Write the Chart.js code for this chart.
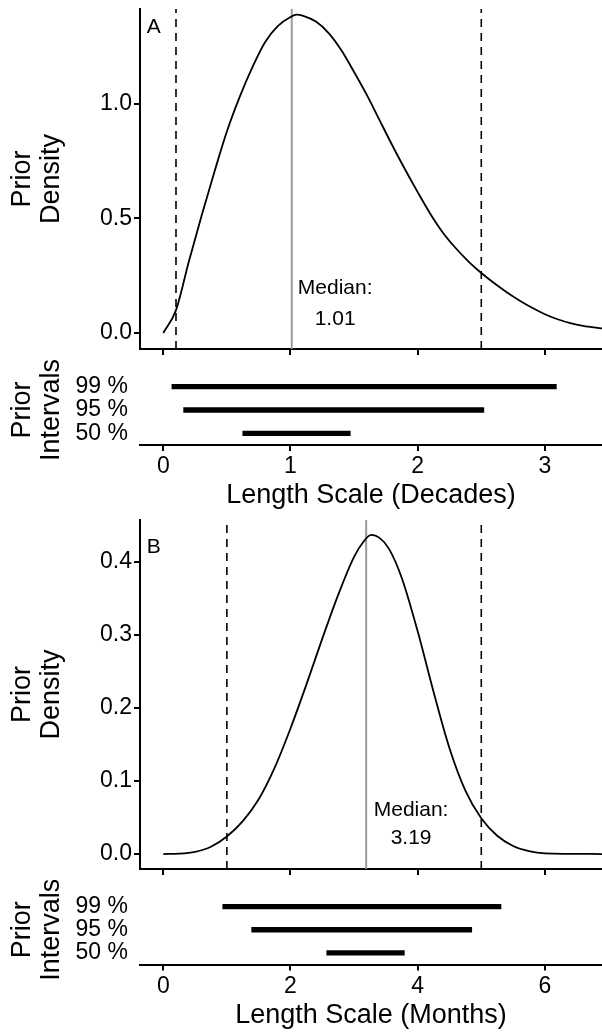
<!DOCTYPE html>
<html>
<head>
<meta charset="utf-8">
<script src="https://cdn.jsdelivr.net/npm/chart.js@4.4.1/dist/chart.umd.min.js"></script>
<style>
  body { margin: 0; background: #fff; }
  #wrap { position: relative; width: 602px; height: 1032px; overflow: hidden; }
  canvas { position: absolute; left: 0; }
</style>
</head>
<body>
<div id="wrap">
  <canvas id="densA" width="602" height="360" style="top:0px"></canvas>
  <canvas id="intA" width="602" height="155" style="top:360px"></canvas>
  <canvas id="densB" width="602" height="365" style="top:515px"></canvas>
  <canvas id="intB" width="602" height="152" style="top:880px"></canvas>
</div>
<script>
// ---- panel A (decades) ----
const curveAx = [0, 0.1, 0.2, 0.3, 0.4, 0.5, 0.6, 0.7, 0.8, 0.9, 1.0, 1.05, 1.1, 1.2, 1.3, 1.4, 1.5, 1.6, 1.7, 1.8, 1.9, 2.0, 2.1, 2.2, 2.3, 2.4, 2.5, 2.6, 2.7, 2.8, 2.9, 3.0, 3.1, 3.2, 3.3, 3.45];
const curveAy = [0, 0.10, 0.31, 0.51, 0.70, 0.88, 1.03, 1.16, 1.27, 1.34, 1.38, 1.39, 1.385, 1.36, 1.31, 1.235, 1.14, 1.04, 0.93, 0.82, 0.715, 0.615, 0.52, 0.437, 0.37, 0.312, 0.262, 0.218, 0.178, 0.142, 0.11, 0.082, 0.06, 0.043, 0.031, 0.02];
const intervalsA = [[0.068, 3.09], [0.16, 2.52], [0.625, 1.47]];
const boundsA = [0.1, 2.5];
const medianA = 1.01;
const xTicksA = [0, 1, 2, 3];
const xTickLabelsA = ['0', '1', '2', '3'];
const yTicksA = [0, 0.5, 1.0];
const yTickLabelsA = ['0.0', '0.5', '1.0'];

// ---- panel B (months) ----
const curveBx = [0, 0.25, 0.5, 0.75, 1.0, 1.25, 1.5, 1.75, 2.0, 2.25, 2.5, 2.75, 3.0, 3.15, 3.27, 3.4, 3.55, 3.75, 4.0, 4.25, 4.5, 4.75, 5.0, 5.25, 5.5, 5.75, 6.0, 6.9];
const curveBy = [0, 0.0005, 0.003, 0.010, 0.024, 0.045, 0.075, 0.118, 0.172, 0.232, 0.295, 0.355, 0.407, 0.428, 0.437, 0.433, 0.418, 0.378, 0.305, 0.222, 0.145, 0.087, 0.049, 0.025, 0.011, 0.004, 0.001, 0];
const intervalsB = [[0.935, 5.31], [1.39, 4.85], [2.57, 3.79]];
const boundsB = [1, 5];
const medianB = 3.19;
const xTicksB = [0, 2, 4, 6];
const xTickLabelsB = ['0', '2', '4', '6'];
const yTicksB = [0, 0.1, 0.2, 0.3, 0.4];
const yTickLabelsB = ['0.0', '0.1', '0.2', '0.3', '0.4'];

const intervalLabels = ['99 %', '95 %', '50 %'];

const FONT = "'Liberation Sans', Arial, Helvetica, sans-serif";
Chart.defaults.font.family = FONT;
Chart.defaults.color = '#000';

// dashed bounds + grey median line, drawn through the x scale
const refLines = {
    id: 'refLines',
    beforeDatasetsDraw(chart, args, opts) {
        if (!opts.onTop) drawRefs(chart, opts);
    },
    afterDatasetsDraw(chart, args, opts) {
        if (opts.onTop) drawRefs(chart, opts);
    }
};

function drawRefs(chart, opts) {
    const { ctx, chartArea: { top, bottom }, scales: { x } } = chart;
    ctx.save();
    ctx.strokeStyle = '#000';
    ctx.lineWidth = 1.6;
    ctx.setLineDash([8, 6]);
    opts.dashed.forEach(v => {
        const px = x.getPixelForValue(v);
        ctx.beginPath();
        ctx.moveTo(px, bottom);
        ctx.lineTo(px, top);
        ctx.stroke();
    });
    ctx.setLineDash([]);
    ctx.strokeStyle = '#999';
    ctx.lineWidth = 2;
    const m = x.getPixelForValue(opts.median);
    ctx.beginPath();
    ctx.moveTo(m, bottom);
    ctx.lineTo(m, top);
    ctx.stroke();
    ctx.restore();
}

// text placed in data coordinates
const notes = {
    id: 'notes',
    afterDraw(chart, args, opts) {
        const { ctx, scales: { x, y } } = chart;
        ctx.save();
        ctx.fillStyle = '#000';
        ctx.textAlign = 'center';
        ctx.textBaseline = 'middle';
        (opts.items || []).forEach(n => {
            ctx.font = n.size + 'px ' + FONT;
            ctx.fillText(n.text, x.getPixelForValue(n.x), y.getPixelForValue(n.y));
        });
        ctx.restore();
    }
};

function fixTicks(values) {
    return s => { s.ticks = values.map(v => ({ value: v })); };
}

function axisStyle() {
    return {
        grid: { drawOnChartArea: false, color: '#000', lineWidth: 2, tickLength: 6 },
        border: { color: '#000', width: 2 }
    };
}

function densityChart(id, xs, ys, xr, yr, xTicks, yTicks, yLabels, padTop, xHeight, bounds, median, items) {
    new Chart(document.getElementById(id), {
        type: 'scatter',
        data: {
            datasets: [{
                data: xs.map((v, i) => ({ x: v, y: ys[i] })),
                showLine: true,
                borderColor: '#000',
                borderWidth: 1.8,
                pointRadius: 0,
                cubicInterpolationMode: 'monotone',
                fill: false
            }]
        },
        options: {
            responsive: false,
            animation: false,
            devicePixelRatio: 1,
            layout: { padding: { top: padTop, left: 0, right: 0, bottom: 0 } },
            plugins: {
                legend: { display: false },
                tooltip: { enabled: false },
                refLines: { dashed: bounds, median: median, onTop: false },
                notes: { items: items }
            },
            scales: {
                x: {
                    type: 'linear', min: xr[0], max: xr[1], bounds: 'data',
                    afterBuildTicks: fixTicks(xTicks),
                    afterFit: s => { s.height = xHeight; s.paddingLeft = s.paddingRight = s.paddingTop = s.paddingBottom = 0; },
                    ticks: { display: false },
                    ...axisStyle()
                },
                y: {
                    type: 'linear', min: yr[0], max: yr[1], bounds: 'data',
                    afterBuildTicks: fixTicks(yTicks),
                    afterFit: s => { s.width = 140; s.paddingLeft = s.paddingRight = s.paddingTop = s.paddingBottom = 0; },
                    ticks: { padding: 2, font: { size: 23 }, callback: (v, i) => yLabels[i] },
                    title: {
                        display: true, text: ['Prior', 'Density'], align: 'center',
                        font: { size: 27, lineHeight: 29 / 27 }, padding: { top: 8.5, bottom: 0 }
                    },
                    ...axisStyle()
                }
            }
        },
        plugins: [refLines, notes]
    });
}

function intervalChart(id, ranges, xr, xTicks, xLabels, xTitle, titlePad, bounds, median) {
    new Chart(document.getElementById(id), {
        type: 'bar',
        data: {
            labels: intervalLabels,
            datasets: [{
                data: ranges,
                backgroundColor: '#000',
                borderWidth: 0,
                barThickness: 4.7
            }]
        },
        options: {
            indexAxis: 'y',
            responsive: false,
            animation: false,
            devicePixelRatio: 1,
            layout: { padding: { top: 15, left: 0, right: 0, bottom: 0 } },
            plugins: {
                legend: { display: false },
                tooltip: { enabled: false },
                refLines: { dashed: bounds, median: median, onTop: true }
            },
            scales: {
                x: {
                    type: 'linear', min: xr[0], max: xr[1], bounds: 'data',
                    afterBuildTicks: fixTicks(xTicks),
                    afterFit: s => { s.paddingLeft = s.paddingRight = s.paddingTop = s.paddingBottom = 0; },
                    ticks: { padding: 4.5, font: { size: 23, lineHeight: 1 }, callback: (v, i) => xLabels[i], maxRotation: 0 },
                    title: {
                        display: true, text: xTitle,
                        font: { size: 27, lineHeight: 1 }, padding: { top: 0, bottom: titlePad }
                    },
                    ...axisStyle()
                },
                y: {
                    type: 'category', offset: true,
                    afterFit: s => { s.width = 140; s.paddingLeft = s.paddingRight = s.paddingTop = s.paddingBottom = 0; },
                    grid: { display: false, drawTicks: false },
                    border: { display: false },
                    ticks: { padding: 12, font: { size: 23 }, autoSkip: false },
                    title: {
                        display: true, text: ['Prior', 'Intervals'], align: 'center',
                        font: { size: 27, lineHeight: 29 / 27 }, padding: { top: 8.5, bottom: 0 }
                    }
                }
            }
        }
    });
}

densityChart('densA', curveAx, curveAy, [-0.183, 3.449], [-0.07, 1.415], xTicksA, yTicksA, yTickLabelsA, 9, 11, boundsA, medianA, [
    { text: 'A', x: -0.075, y: 1.334, size: 21 },
    { text: 'Median:', x: 1.351, y: 0.197, size: 21 },
    { text: '1.01', x: 1.351, y: 0.061, size: 21 }
]);
intervalChart('intA', intervalsA, [-0.183, 3.449], xTicksA, xTickLabelsA, 'Length Scale (Decades)', 5.5, boundsA, medianA);

densityChart('densB', curveBx, curveBy, [-0.366, 6.898], [-0.0205, 0.4575], xTicksB, yTicksB, yTickLabelsB, 5, 11, boundsB, medianB, [
    { text: 'B', x: -0.149, y: 0.42, size: 21 },
    { text: 'Median:', x: 3.896, y: 0.060, size: 21 },
    { text: '3.19', x: 3.896, y: 0.022, size: 21 }
]);
intervalChart('intB', intervalsB, [-0.366, 6.898], xTicksB, xTickLabelsB, 'Length Scale (Months)', 2.5, boundsB, medianB);
</script>
</body>
</html>
